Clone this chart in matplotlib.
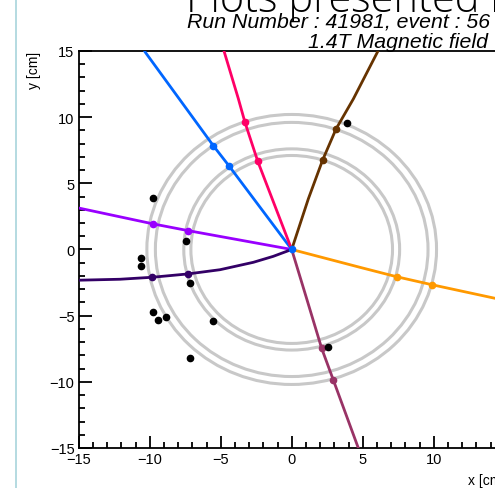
import matplotlib
matplotlib.use("Agg")
import matplotlib.pyplot as plt
from matplotlib.lines import Line2D
from matplotlib.patches import Circle
from matplotlib.ticker import MultipleLocator

plt.rcParams['font.family'] = ['Liberation Sans', 'DejaVu Sans']

# detector layers (radius in cm)
layer_radii = [7.1, 7.6, 9.6, 10.2]

# reconstructed tracks: points along each track, starting at the vertex
track_colors = ['#0066ff', '#ff0066', '#663300', '#ff9900', '#993366', '#9900ff', '#330066']
track_x = [
    [0, -4.39, -5.52, -10.33, -10.45],
    [0, -2.39, -3.29, -3.76, -4.77, -4.83],
    [0, 1.17, 2.18, 3.12, 4.34, 6.08, 6.15],
    [0, 4.81, 7.39, 9.86, 14.32, 15.3],
    [0, 1.06, 2.11, 2.93, 4.69, 4.75],
    [0, -7.28, -9.75, -15.3],
    [0, -1.3, -2.7, -5.05, -7.32, -9.82, -12.09, -15.3],
]
track_y = [
    [0, 6.28, 7.84, 14.93, 15.2],
    [0, 6.66, 9.6, 11.4, 15.0, 15.2],
    [0, 3.82, 6.76, 9.1, 11.37, 15.0, 15.2],
    [0, -1.35, -2.06, -2.66, -3.69, -3.9],
    [0, -3.74, -7.47, -9.86, -15.0, -15.2],
    [0, 1.42, 1.93, 3.2],
    [0, -0.52, -0.97, -1.53, -1.85, -2.1, -2.25, -2.33],
]

# hits assigned to each track
hit_x = [
    [-4.39, -5.52],
    [-2.39, -3.29],
    [2.18, 3.12],
    [7.39, 9.86],
    [2.11, 2.93],
    [-7.28, -9.75],
    [-7.32, -9.82],
]
hit_y = [
    [6.28, 7.84],
    [6.66, 9.6],
    [6.76, 9.1],
    [-2.06, -2.66],
    [-7.47, -9.86],
    [1.42, 1.93],
    [-1.85, -2.1],
]

# unassigned hits
free_x = [3.87, -9.75, -7.46, -10.63, -10.63, -7.18, -9.75, -9.44, -8.85, -5.52, -7.16, 2.58]
free_y = [9.54, 3.87, 0.64, -0.62, -1.25, -2.56, -4.7, -5.33, -5.1, -5.43, -8.22, -7.35]

fig = plt.figure(figsize=(4.95, 4.89), dpi=100)
ax = fig.add_axes([0.159, 0.0818, 0.8606, 0.812])

for r in layer_radii:
    ax.add_patch(Circle((0, 0), r, fill=False, edgecolor='#c8c8c8', linewidth=2.2, zorder=1))

for xs, ys, hx, hy, c in zip(track_x, track_y, hit_x, hit_y, track_colors):
    ax.plot(xs, ys, color=c, linewidth=2.0, zorder=3, solid_capstyle='butt',
            solid_joinstyle='round')
    ax.plot(hx, hy, 'o', color=c, markersize=4.5, zorder=4)

ax.plot(free_x, free_y, 'o', color='black', markersize=4.5, zorder=5)
ax.plot([0], [0], 'o', color=track_colors[0], markersize=4.5, zorder=6)

ax.set_xlim(-15, 15)
ax.set_ylim(-15, 15)
ax.xaxis.set_major_locator(MultipleLocator(5))
ax.xaxis.set_minor_locator(MultipleLocator(1))
ax.yaxis.set_major_locator(MultipleLocator(5))
ax.yaxis.set_minor_locator(MultipleLocator(1))
ax.tick_params(which='both', direction='in', top=False, right=False, labelsize=10.5,
               width=1.3, pad=3)
ax.tick_params(which='major', length=9)
ax.tick_params(which='minor', length=4.5)
for s in ax.spines.values():
    s.set_linewidth(1.3)

ax.set_xlabel('x [cm]', fontsize=10, loc='right', labelpad=5)
ax.set_ylabel('y [cm]', fontsize=10, loc='top', labelpad=6)

# canvas frame edge and header texts
fig.add_artist(Line2D([0.032, 0.032], [0, 1], color='#a8d4dc', linewidth=1.2))
fig.text(0.375, 1 - 12 / 489, 'Plots presented in', fontsize=30, fontfamily='Open Sans',
         fontweight='light', va='baseline', ha='left')
fig.text(0.99, 1 - 27 / 489, 'Run Number : 41981, event : 56', fontsize=15.3,
         style='italic', ha='right', va='baseline')
fig.text(0.985, 1 - 48 / 489, '1.4T Magnetic field', fontsize=15.3,
         style='italic', ha='right', va='baseline')

fig.savefig('out.png', dpi=100)
